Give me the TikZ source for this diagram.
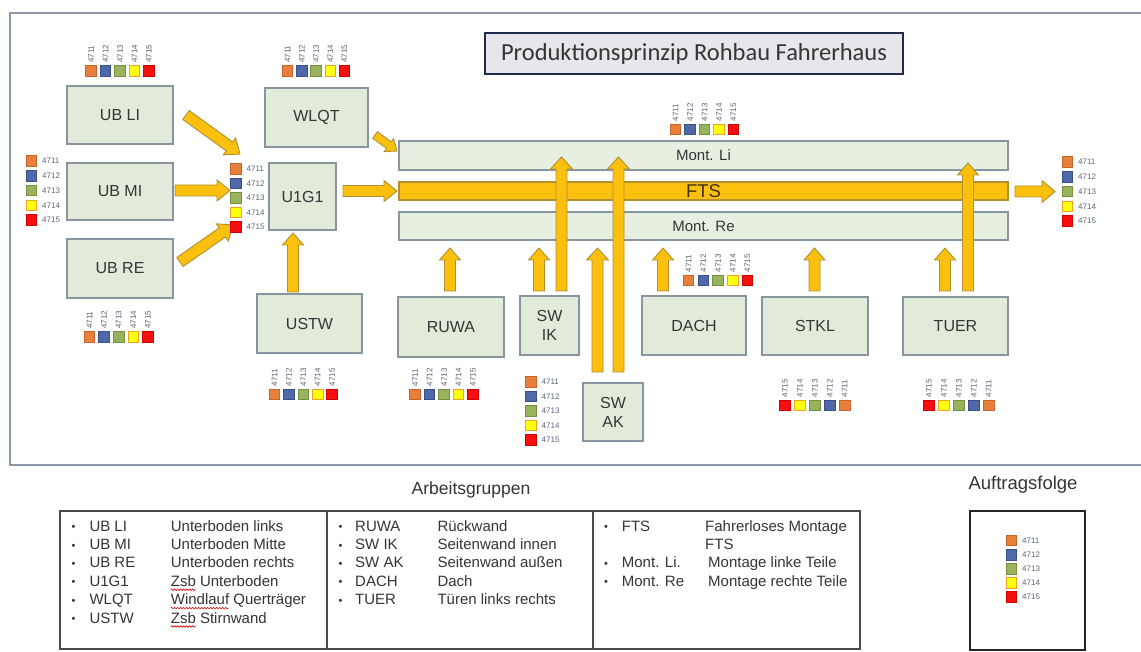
\documentclass[tikz,border=0pt]{standalone}
\usepackage{fontspec}
\setmainfont{Liberation Sans}
\newfontfamily\titlefont{Carlito}
\usetikzlibrary{calc,decorations.pathmorphing}
\definecolor{boxfill}{HTML}{E2EBD9}
\definecolor{boxline}{HTML}{8795A1}
\definecolor{barfill}{HTML}{E6EFE0}
\definecolor{arrfill}{HTML}{FBBF0E}
\definecolor{arrline}{HTML}{B09030}
\definecolor{frameline}{HTML}{8A97AA}
\definecolor{titlefill}{HTML}{E6E6EB}
\definecolor{titleline}{HTML}{1F2B4A}
\definecolor{txt}{HTML}{353535}
\definecolor{ftstxt}{HTML}{3D3000}
\definecolor{lbl}{HTML}{5C6478}
\definecolor{tblline}{HTML}{4A4A4A}
\definecolor{c1}{HTML}{E97F3C}\definecolor{c1b}{HTML}{C86428}
\definecolor{c2}{HTML}{4F69A8}\definecolor{c2b}{HTML}{3A5088}
\definecolor{c3}{HTML}{98B35C}\definecolor{c3b}{HTML}{76903F}
\definecolor{c4}{HTML}{FFFF10}\definecolor{c4b}{HTML}{F0A422}
\definecolor{c5}{HTML}{F51010}\definecolor{c5b}{HTML}{D00000}
\tikzset{
 box/.style={draw=boxline, fill=boxfill, line width=1.3pt, inner sep=0pt, font=\fontsize{16}{19}\selectfont, text=txt, align=center},
 bar/.style={draw=boxline, fill=barfill, line width=1.2pt, inner sep=0pt, font=\fontsize{15}{18}\selectfont, text=txt},
 arr/.style={fill=arrfill, draw=arrline, line width=0.9pt, line join=miter},
 rotlbl/.style={rotate=90, anchor=west, inner sep=0pt, font=\fontsize{8}{8}\selectfont, text=lbl},
 hlbl/.style={anchor=west, inner sep=0pt, font=\fontsize{8}{8}\selectfont, text=lbl},
 tt/.style={anchor=base west, inner sep=0pt, font=\fontsize{15}{18}\selectfont, text=txt},
 bul/.style={anchor=base west, inner sep=0pt, font=\fontsize{11}{12}\selectfont, text=txt},
 snk/.style={draw=red!85!black, line width=0.6pt, decorate, decoration={snake, amplitude=0.8pt, segment length=3pt}},
}
% colour square
\newcommand{\sqr}[3]{\filldraw[fill=c#3, draw=c#3b, line width=0.8pt] (#1-5.3,#2-5.3) rectangle (#1+5.3,#2+5.3);}
% horizontal legend: name, x0, y, pitch, reversed
\newcommand{\hleg}[5]{%
 \foreach \i in {1,...,5}{%
  \pgfmathsetmacro{\xx}{#2+(\i-1)*#4}%
  \pgfmathtruncatemacro{\n}{#5==0 ? \i : 6-\i}%
  \sqr{\xx}{#3}{\n}%
  \node[rotlbl] (#1-\i) at (\xx,#3-8) {471\n};}}
% vertical legend: name, x, y0, pitch
\newcommand{\vleg}[4]{%
 \foreach \i in {1,...,5}{%
  \pgfmathsetmacro{\yy}{#3+(\i-1)*#4}%
  \sqr{#2}{\yy}{\i}%
  \node[hlbl] (#1-\i) at (#2+10.5,\yy) {471\i};}}
% block arrow: start, end, shaft half width, head half width, head length
\newcommand{\barrow}[5]{%
 \coordinate (bh) at ($(#2)!#5!(#1)$);
 \filldraw[arr] ($(#1)!#3!90:(#2)$) -- ($(bh)!#3!90:(#2)$) -- ($(bh)!#4!90:(#2)$) -- (#2)
   -- ($(bh)!#4!-90:(#2)$) -- ($(bh)!#3!-90:(#2)$) -- ($(#1)!#3!-90:(#2)$) -- cycle;}
\begin{document}
\begin{tikzpicture}[x=1pt,y=-1pt]
\useasboundingbox (0,0) rectangle (1141,652);
\fill[white] (0,0) rectangle (1141,652);
\draw[frameline, line width=2pt] (1150,13) -- (10,13) -- (10,465) -- (1150,465);

% title
\node[draw=titleline, fill=titlefill, line width=2.4pt, minimum width=418, minimum height=41, inner sep=0pt,
      font=\titlefont\fontsize{24.5}{28}\selectfont, text=txt] (title) at (694,53.5) {Produktionsprinzip Rohbau Fahrerhaus};

% work group boxes
\node[box, minimum width=106, minimum height=58] (ubli) at (120,115) {UB LI};
\node[box, minimum width=106, minimum height=57] (ubmi) at (120,191.5) {UB MI};
\node[box, minimum width=106, minimum height=59] (ubre) at (120,268.5) {UB RE};
\node[box, minimum width=103, minimum height=59] (wlqt) at (316.5,117.5) {WLQT};
\node[box, minimum width=67, minimum height=67] (u1g1) at (302.5,196.5) {U1G1};
\node[box, minimum width=105, minimum height=59] (ustw) at (309.5,323.5) {USTW};
\node[box, minimum width=106, minimum height=60] (ruwa) at (451,327) {RUWA};
\node[box, minimum width=59, minimum height=59] (swik) at (549.5,325.5) {SW\\IK};
\node[box, minimum width=60, minimum height=58] (swak) at (613,412) {SW\\AK};
\node[box, minimum width=104, minimum height=59] (dach) at (694,325.5) {DACH};
\node[box, minimum width=106, minimum height=58] (stkl) at (815,326) {STKL};
\node[box, minimum width=105, minimum height=58] (tuer) at (955.5,326) {TUER};

% lines
\node[bar, minimum width=609, minimum height=29] (montli) at (703.5,155.5) {Mont. Li};
\node[bar, fill=arrfill, draw=arrline, minimum width=609, minimum height=18, font=\fontsize{18.5}{20}\selectfont, text=ftstxt] (fts) at (703.5,191) {FTS};
\node[bar, minimum width=609, minimum height=28] (montre) at (703.5,226) {Mont. Re};

% arrow end points
\coordinate (a1s) at (186,115);   \coordinate (a1e) at (240,154);
\coordinate (a2s) at (175,190.5); \coordinate (a2e) at (230,190.5);
\coordinate (a3s) at (180,262);   \coordinate (a3e) at (233,225);
\coordinate (a4s) at (375,135);   \coordinate (a4e) at (397,151);
\coordinate (a5s) at (343,191);   \coordinate (a5e) at (397,191);
\coordinate (a6s) at (293,292);   \coordinate (a6e) at (293,233);
\coordinate (a7s) at (450,291);   \coordinate (a7e) at (450,248);
\coordinate (a8s) at (539,291);   \coordinate (a8e) at (539,248);
\coordinate (a9s) at (561.5,291); \coordinate (a9e) at (561.5,157);
\coordinate (a10s) at (597.5,372);\coordinate (a10e) at (597.5,248);
\coordinate (a11s) at (618.5,372);\coordinate (a11e) at (618.5,157);
\coordinate (a12s) at (663,291);  \coordinate (a12e) at (663,248);
\coordinate (a13s) at (814.5,291);\coordinate (a13e) at (814.5,248);
\coordinate (a14s) at (945,291);  \coordinate (a14e) at (945,248);
\coordinate (a15s) at (968,291);  \coordinate (a15e) at (968,163);
\coordinate (a16s) at (1015,191.5);\coordinate (a16e) at (1055,191.5);

\barrow{a1s}{a1e}{5.5pt}{10.5pt}{13pt}
\barrow{a2s}{a2e}{5.5pt}{10.5pt}{13pt}
\barrow{a3s}{a3e}{5.5pt}{10.5pt}{13pt}
\barrow{a4s}{a4e}{4pt}{8pt}{10pt}
\barrow{a5s}{a5e}{5.5pt}{10.5pt}{13pt}
\barrow{a6s}{a6e}{5.5pt}{10.5pt}{12pt}
\barrow{a7s}{a7e}{5.5pt}{10.5pt}{12pt}
\barrow{a8s}{a8e}{5.5pt}{10.5pt}{12pt}
\barrow{a9s}{a9e}{5.5pt}{11pt}{12pt}
\barrow{a10s}{a10e}{5.5pt}{11pt}{12pt}
\barrow{a11s}{a11e}{5.5pt}{11pt}{12pt}
\barrow{a12s}{a12e}{5.5pt}{10.5pt}{12pt}
\barrow{a13s}{a13e}{5.5pt}{10.5pt}{12pt}
\barrow{a14s}{a14e}{5.5pt}{10.5pt}{12pt}
\barrow{a15s}{a15e}{5.5pt}{10.5pt}{12pt}
\barrow{a16s}{a16e}{5.5pt}{11pt}{13pt}

% order colour legends
\hleg{l1}{91}{71}{14.5}{0}
\hleg{l2}{287.5}{71}{14.25}{0}
\hleg{l3}{89.5}{337}{14.6}{0}
\hleg{l4}{274.5}{394.5}{14.4}{0}
\hleg{l5}{675.5}{129.5}{14.5}{0}
\hleg{l6}{415}{394.5}{14.5}{0}
\hleg{l7}{688.5}{280.5}{14.75}{0}
\hleg{l8}{785}{405.5}{14.9}{1}
\hleg{l9}{929}{405.5}{14.9}{1}
\vleg{v1}{31.5}{161}{14.75}
\vleg{v2}{236}{169}{14.5}
\vleg{v3}{531}{382}{14.5}
\vleg{v4}{1067.5}{162}{14.75}

% bottom: Arbeitsgruppen table
\node[font=\fontsize{17.5}{20}\selectfont, text=txt, inner sep=0pt] (ag) at (471,490) {Arbeitsgruppen};
\draw[tblline, line width=1.2pt] (60,511) rectangle (860,649);
\draw[tblline, line width=1.2pt] (327,511) -- (327,649);
\draw[tblline, line width=1.2pt] (593,511) -- (593,649);

\foreach \ab/\de [count=\k] in {UB LI/Unterboden links,UB MI/Unterboden Mitte,UB RE/Unterboden rechts,U1G1/Zsb Unterboden,WLQT/Windlauf Querträger,USTW/Zsb Stirnwand}{
  \pgfmathsetmacro{\yy}{531+(\k-1)*18.4}
  \node[bul] (b1-\k) at (71.5,\yy-0.3) {•};
  \node[tt] (s1-\k) at (89.3,\yy) {\ab};
  \node[tt] (d1-\k) at (170.7,\yy) {\de};
}
\draw[snk] ($(d1-4.base west)+(0,3.5)$) -- ++(25,0);
\draw[snk] ($(d1-5.base west)+(0,3.5)$) -- ++(58,0);
\draw[snk] ($(d1-6.base west)+(0,3.5)$) -- ++(25,0);

\foreach \ab/\de [count=\k] in {RUWA/Rückwand,SW IK/Seitenwand innen,SW AK/Seitenwand außen,DACH/Dach,TUER/Türen links rechts}{
  \pgfmathsetmacro{\yy}{531+(\k-1)*18.4}
  \node[bul] (b2-\k) at (338.3,\yy-0.3) {•};
  \node[tt] (s2-\k) at (355,\yy) {\ab};
  \node[tt] (d2-\k) at (437.3,\yy) {\de};
}

\node[bul] (b3-1) at (604,530.7) {•};
\node[tt] (s3-1) at (621.7,531) {FTS};
\node[tt] (d3-1) at (705,531) {Fahrerloses Montage};
\node[tt] (d3-1b) at (705,549.4) {FTS};
\node[bul] (b3-2) at (604,567.5) {•};
\node[tt] (s3-2) at (621.7,567.8) {Mont. Li.};
\node[tt] (d3-2) at (708,567.8) {Montage linke Teile};
\node[bul] (b3-3) at (604,585.9) {•};
\node[tt] (s3-3) at (621.7,586.2) {Mont. Re};
\node[tt] (d3-3) at (708,586.2) {Montage rechte Teile};

% Auftragsfolge
\node[font=\fontsize{18.5}{21}\selectfont, text=txt, inner sep=0pt] (af) at (1023,485) {Auftragsfolge};
\node[draw=black!85, line width=2pt, minimum width=115, minimum height=139, inner sep=0pt] (afbox) at (1027.5,580.5) {};
\vleg{v5}{1011.5}{540.5}{14.1}
\end{tikzpicture}
\end{document}
